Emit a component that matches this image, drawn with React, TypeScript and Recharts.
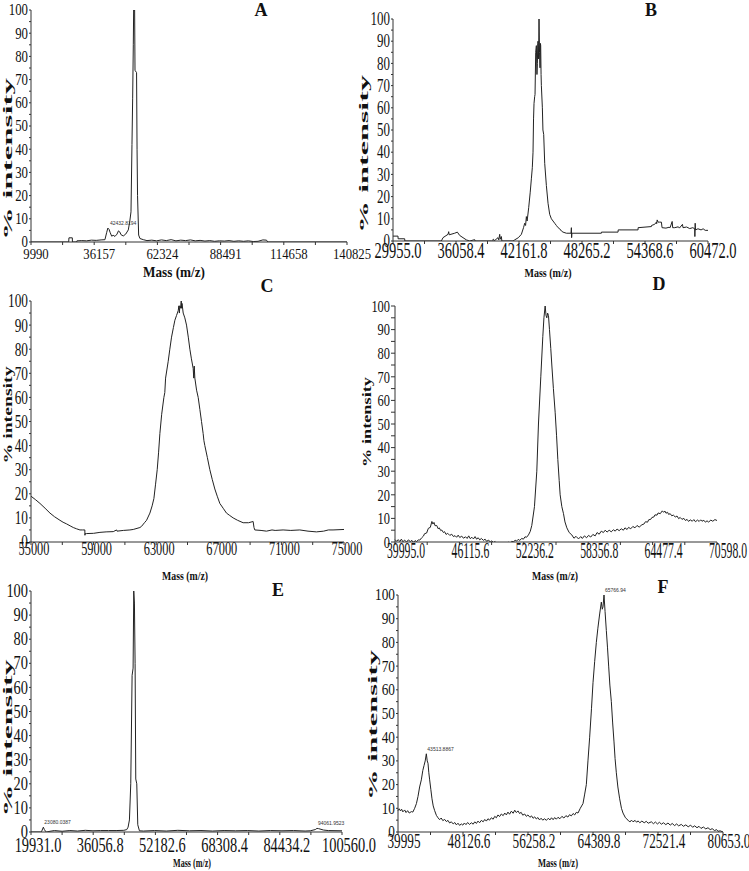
import { LineChart, Line, XAxis, YAxis, ReferenceDot } from 'recharts';

type Pt = [number, number];

// mass (m/z) tick labels per panel
const ticksA = ['9990', '36157', '62324', '88491', '114658', '140825'];
const ticksB = ['29955.0', '36058.4', '42161.8', '48265.2', '54368.6', '60472.0'];
const ticksC = ['55000', '59000', '63000', '67000', '71000', '75000'];
const ticksD = ['39995.0', '46115.6', '52236.2', '58356.8', '64477.4', '70598.0'];
const ticksE = ['19931.0', '36056.8', '52182.6', '68308.4', '84434.2', '100560.0'];
const ticksF = ['39995', '48126.6', '56258.2', '64389.8', '72521.4', '80653.0'];
const intensityTicks = [0, 5, 10, 15, 20, 25, 30, 35, 40, 45, 50, 55, 60, 65, 70, 75, 80, 85, 90, 95, 100];

// [mass, % intensity]
const specA: Pt[] = [
  [9990, 0], [25600, 0], [25700, 1.8], [27100, 1.8], [27150, 0], [28900, 0], [29000, 0.5], [31000, 0.6],
  [33000, 0.5], [35000, 0.8], [37000, 0.7], [39000, 0.9], [40600, 1], [41300, 4], [41800, 6], [42280, 5.5],
  [42800, 4], [43400, 2.5], [44000, 2.9], [44760, 2.4], [45600, 3.4], [46200, 4.8], [46700, 4.4], [47300, 3.1],
  [48200, 2.6], [49200, 3.4], [50280, 5.2], [50900, 9], [51390, 13], [51800, 42], [52080, 62], [52350, 85],
  [52490, 100], [52900, 100], [53050, 74], [53700, 73], [53900, 40], [54100, 20], [54560, 3], [55100, 1.5],
  [56500, 1], [58000, 0.6], [60000, 0.8], [62000, 0.5], [64000, 0.9], [66000, 0.6], [68000, 1], [70000, 0.5],
  [72000, 0.8], [74000, 0.6], [76000, 0.9], [78000, 0.5], [80000, 0.7], [82000, 0.4], [84000, 0.6], [86000, 0.3],
  [88000, 0.5], [90000, 0.4], [92000, 0.6], [94000, 0.3], [96000, 0.5], [98000, 0.3], [100000, 0.5], [102000, 0.2],
  [104000, 0.3], [106000, 0.9], [107500, 0.8], [108000, 0], [140825, 0],
];

const specB: Pt[] = [
  [29955, 2.2], [30440, 2.2], [30450, 1], [31086, 1], [31100, 0], [34640, 0], [34800, 1.5], [35285, 3],
  [35349, 4.2], [35400, 2.8], [35931, 3.5], [36189, 4], [36415, 2.5], [36738, 1.5], [37061, 0.5], [37384, 0],
  [37869, 0.6], [37900, 0], [39500, 0], [39700, 0.8], [39750, 0], [40130, 1.5], [40200, 0.5], [40291, 3],
  [40350, 0.8], [40453, 2], [40500, 0], [41583, 0], [41745, 0.5], [42100, 1.5], [42391, 3], [42600, 6],
  [42714, 8], [42800, 7], [42875, 11], [42950, 9], [43101, 15], [43250, 22], [43360, 28], [43450, 33],
  [43521, 40], [43570, 55], [43618, 62], [43680, 65], [43715, 66], [43780, 85], [43844, 88], [43900, 75],
  [43941, 80], [43980, 89], [44006, 90], [44060, 82], [44102, 100], [44150, 85], [44199, 78], [44240, 89],
  [44264, 88], [44300, 75], [44329, 70], [44425, 60], [44480, 50], [44555, 48], [44652, 35], [44813, 25],
  [44975, 17], [45136, 12], [45300, 10], [45459, 9], [45620, 8], [45782, 7], [45950, 6], [46105, 5.5],
  [46270, 4.5], [46428, 4], [46751, 3.5], [47200, 3.5], [47236, 6], [47260, 1.5], [47290, 3.5], [50143, 3.5],
  [50150, 4], [51758, 4], [51770, 5], [53696, 5], [53700, 6], [54988, 6.5], [55000, 7], [55300, 7.5],
  [55472, 8.5], [55500, 7.8], [55550, 9.5], [55634, 8.5], [55800, 8.5], [55957, 8.5], [56021, 6], [56400, 5.8],
  [56700, 6.2], [56800, 6], [57000, 8.8], [57050, 6], [57249, 6], [57600, 6.4], [57700, 5.8], [58000, 7.5],
  [58050, 6], [58400, 6.3], [58700, 5.6], [59000, 6], [59187, 5.5], [59200, 2], [59230, 8], [59260, 5],
  [59500, 5.5], [59800, 5], [60000, 5.5], [60200, 4.8], [60472, 4.8],
];

const specC: Pt[] = [
  [55000, 19], [55300, 17.5], [55575, 16], [55900, 14], [56213, 12], [56500, 10.5], [56851, 9], [57050, 8.2],
  [57277, 7.5], [57500, 6.7], [57703, 6], [57900, 5.5], [58128, 5], [58300, 5], [58440, 5], [58447, 2.8],
  [58460, 3.5], [58554, 3.5], [59000, 3.6], [59405, 4], [59800, 4.2], [60256, 4.3], [60469, 5], [60500, 4.5],
  [60900, 4.8], [61320, 5], [61533, 5.2], [61959, 6], [62065, 6.5], [62250, 8], [62384, 9], [62597, 12],
  [62740, 15], [62852, 18], [62960, 24], [63065, 30], [63150, 37], [63235, 45], [63350, 53], [63491, 60],
  [63550, 62], [63600, 68], [63767, 75], [63870, 80], [63980, 85], [64100, 89], [64193, 92], [64300, 94],
  [64406, 96], [64450, 98], [64480, 95], [64512, 98], [64560, 97], [64600, 100], [64619, 97], [64650, 99],
  [64725, 95], [64830, 93], [64938, 90], [65050, 85], [65151, 80], [65250, 76], [65363, 72], [65400, 68],
  [65430, 73], [65470, 68], [65580, 63], [65683, 60], [65790, 55], [65895, 50], [66000, 45], [66050, 42],
  [66108, 40], [66270, 35], [66427, 30], [66580, 26], [66746, 22], [66900, 19], [67066, 16], [67280, 14],
  [67491, 12], [67700, 11], [67917, 10], [68200, 9], [68555, 8], [68900, 8], [69194, 8.5], [69250, 6],
  [69300, 5], [69700, 4.8], [70045, 4.5], [70400, 5], [70600, 4.8], [71109, 5], [71600, 4.8], [72173, 5],
  [72700, 4.5], [73237, 4.2], [73700, 4.5], [74000, 5], [74301, 5], [75000, 5.2],
];

const specD: Pt[] = [
  [39995, 1], [40150, 0.3], [40300, 1], [40450, 0.2], [40600, 1.2], [40750, 0.1], [40900, 0.8], [41100, 0],
  [41263, 0.9], [41450, 0.2], [41600, 0.7], [41750, -0.2], [41900, 0.6], [42050, 0.1], [42200, 0.9], [42350, 0.8],
  [42532, 1.8], [42700, 2.5], [42800, 3.5], [43000, 3.8], [43166, 5.8], [43350, 6.2], [43500, 8.7], [43600, 7.6],
  [43700, 8.3], [43800, 6.9], [43959, 7], [44100, 5.6], [44200, 6], [44350, 4.8], [44434, 5.1], [44600, 4],
  [44700, 4.4], [44850, 3.2], [45000, 3.7], [45200, 2.8], [45386, 3.3], [45550, 2.3], [45700, 2.7], [45850, 2],
  [46000, 2.9], [46150, 1.9], [46337, 2.5], [46500, 1.6], [46700, 2.2], [46850, 1.5], [47000, 2.6], [47150, 1.4],
  [47300, 2], [47450, 1.3], [47605, 2.3], [47750, 1.2], [47900, 1.8], [48050, 0.9], [48200, 1.5], [48400, 0.7],
  [48557, 1.2], [48700, 0.3], [48900, 0.8], [49050, 0], [49200, 0.5], [49350, -0.3], [49508, 0.2], [49650, -0.6],
  [49800, -0.2], [50000, -1], [50142, -0.6], [50300, -1], [50450, -0.3], [50600, -0.8], [50776, 0], [50950, -0.4],
  [51100, 0.3], [51250, 0], [51411, 0.8], [51550, 0.4], [51700, 1.1], [51850, 0.7], [52045, 1.5], [52200, 1.2],
  [52350, 2.2], [52500, 2], [52679, 3], [52850, 4.5], [52996, 7], [53250, 15], [53472, 30], [53630, 50],
  [53852, 70], [54043, 87], [54150, 95], [54265, 100], [54350, 96], [54423, 95], [54500, 97], [54582, 96],
  [54677, 90], [54800, 82], [54899, 75], [55050, 65], [55216, 55], [55350, 45], [55470, 35], [55600, 26],
  [55691, 20], [55850, 15], [56009, 12], [56150, 8.5], [56326, 6], [56550, 4], [56801, 3], [57000, 1.6],
  [57200, 2.4], [57436, 1.3], [57650, 2.3], [57800, 1.5], [58000, 2.6], [58200, 1.8], [58387, 2.8], [58600, 2.1],
  [58800, 3.2], [59021, 2.6], [59200, 4], [59400, 3.3], [59600, 4.6], [59800, 4], [59972, 5], [60150, 4.2],
  [60350, 5], [60550, 4.3], [60750, 5.2], [60924, 4.6], [61100, 5.5], [61300, 4.8], [61500, 5.6], [61700, 5],
  [61850, 6], [62050, 5.3], [62192, 6.2], [62400, 5.6], [62600, 6.6], [62800, 6], [63000, 7], [63200, 6.3],
  [63460, 7.3], [63650, 7.6], [63800, 8.6], [64000, 8.4], [64100, 9.4], [64300, 9.6], [64412, 10.4], [64600, 10.6],
  [64700, 11.5], [64900, 11.4], [65000, 12.3], [65205, 12], [65400, 13.2], [65522, 12.6], [65650, 13.1], [65750, 12.2],
  [65900, 12.6], [65997, 11.7], [66150, 12], [66300, 11.1], [66450, 11.4], [66631, 10.6], [66800, 11], [66950, 9.9],
  [67100, 10.4], [67266, 9.6], [67450, 10], [67600, 9.1], [67750, 9.6], [67900, 8.7], [68050, 9.4], [68250, 8.8],
  [68400, 9.5], [68550, 8.6], [68750, 9.3], [68900, 8.7], [69050, 9.4], [69168, 8.8], [69350, 9.2], [69500, 8.4],
  [69650, 9], [69802, 8.4], [70000, 9.3], [70200, 8.8], [70400, 9.5], [70598, 9.1],
];

const specE: Pt[] = [
  [19931, 0], [22600, 0], [22700, 0.3], [23132, 2], [23400, 1], [23564, 0.5], [24000, 0], [24862, 0.3],
  [26000, 0.6], [28000, 0.3], [30000, 0.6], [32000, 0.4], [34000, 0.7], [36000, 0.5], [38000, 0.6], [40000, 0.6],
  [42000, 0.6], [44000, 0.7], [44757, 1], [45100, 2], [45449, 5], [45795, 20], [46141, 65], [46400, 68],
  [46573, 100], [46746, 95], [46919, 70], [47092, 22], [47352, 20], [47611, 3], [48044, 0.5], [49082, 0.4],
  [52000, 0.6], [55000, 0.4], [58000, 0.7], [61000, 0.5], [64000, 0.6], [67000, 0.4], [70000, 0.6], [73000, 0.5],
  [76000, 0.6], [79000, 0.4], [82000, 0.6], [85000, 0.5], [88000, 0.6], [91000, 0.4], [92332, 0.5], [93629, 1],
  [94061, 1.5], [94494, 1.4], [95792, 0.8], [97000, 0.6], [100560, 0.5],
];

const specF: Pt[] = [
  [39995, 9], [40150, 9.8], [40300, 8.9], [40450, 9.6], [40600, 8.5], [40829, 9.3], [41000, 8.2], [41200, 9],
  [41400, 8], [41663, 8.6], [41850, 8.4], [42080, 10], [42300, 12], [42497, 15], [42700, 19], [42914, 22],
  [43100, 26], [43248, 28], [43400, 30], [43540, 33], [43650, 30], [43748, 29], [43850, 25], [43957, 22],
  [44100, 18], [44248, 14], [44400, 11], [44582, 9], [44800, 7], [44999, 6], [45200, 5.2], [45400, 5.9],
  [45600, 4.8], [45833, 5.3], [46050, 4.4], [46250, 4.9], [46450, 3.8], [46667, 4.3], [46900, 3.4], [47100, 4],
  [47300, 3], [47500, 3.7], [47700, 2.8], [47918, 3.4], [48100, 2.9], [48300, 3.8], [48500, 3.1], [48700, 4],
  [48950, 3.2], [49169, 3.9], [49400, 3.3], [49600, 4.3], [49800, 3.6], [50000, 4.6], [50200, 3.9], [50420, 4.9],
  [50650, 4.3], [50850, 5.3], [51050, 4.6], [51250, 5.6], [51450, 5], [51671, 6], [51900, 5.4], [52100, 6.6],
  [52300, 6], [52500, 7.2], [52700, 6.5], [52922, 7.6], [53150, 6.9], [53350, 8], [53550, 7.2], [53750, 8.4],
  [53950, 7.5], [54173, 8.8], [54400, 7.9], [54600, 9.2], [54800, 8.2], [55007, 8.9], [55200, 7.8], [55400, 8.3],
  [55600, 7.1], [55841, 7.6], [56050, 6.6], [56250, 7.2], [56500, 6.2], [56700, 6.8], [56900, 5.8], [57092, 6.4],
  [57300, 5.5], [57500, 6.1], [57700, 5.1], [57900, 5.8], [58100, 5], [58343, 5.6], [58550, 4.9], [58800, 5.8],
  [59000, 5.1], [59200, 6], [59400, 5.2], [59600, 6.1], [59800, 5.4], [60011, 6.2], [60250, 5.6], [60500, 6.6],
  [60750, 5.9], [61000, 6.9], [61250, 6.3], [61450, 7.3], [61679, 6.8], [61900, 7.8], [62100, 7.2], [62300, 8.3],
  [62513, 8], [62800, 10], [63139, 12], [63350, 16], [63556, 20], [63760, 30], [63973, 40], [64200, 52],
  [64390, 63], [64600, 72], [64807, 80], [65000, 86], [65224, 92], [65432, 97], [65550, 94], [65641, 95],
  [65766, 100], [65900, 93], [66058, 85], [66200, 78], [66350, 70], [66500, 62], [66683, 55], [66850, 46],
  [67017, 38], [67150, 31], [67309, 25], [67500, 19], [67726, 14], [67950, 10], [68143, 8], [68450, 6],
  [68768, 5], [69000, 4.2], [69200, 5], [69400, 4.3], [69650, 4.9], [69850, 4.1], [70019, 4.7], [70250, 3.9],
  [70500, 4.6], [70800, 3.9], [71050, 4.5], [71300, 3.7], [71687, 4.3], [71950, 3.5], [72200, 4.2], [72450, 3.4],
  [72700, 4.1], [72950, 3.3], [73200, 3.9], [73500, 3.1], [73772, 3.8], [74050, 2.9], [74300, 3.6], [74600, 2.7],
  [74850, 3.4], [75100, 2.6], [75440, 3.2], [75700, 2.4], [76000, 3], [76300, 2.2], [76600, 2.9], [76850, 2],
  [77108, 2.6], [77400, 1.8], [77650, 2.4], [77900, 1.5], [78200, 2.1], [78500, 1.3], [78776, 1.8], [79050, 1],
  [79300, 1.4], [79600, 0.6], [79850, 1], [80027, 0.3], [80300, 0.5], [80653, 0],
];

// peak annotations [mass, intensity, text]
const notesA: [number, number, string][] = [[42282, 6, '42432.8194']];
const notesE: [number, number, string][] = [[23132, 2, '23080.0387'], [94061, 1.5, '94061.9523']];
const notesF: [number, number, string][] = [[43540, 33, '43513.8867'], [65766, 100, '65766.94']];

const SERIF = '"Liberation Serif", "Times New Roman", serif';

interface Cfg {
  spec: Pt[]; ticks: string[]; notes: [number, number, string][];
  l: number; r: number; t: number; b: number;
  xFs: number; xSx: number; xBase: number; xDx: number;
  yFs: number; ySx: number; yGap: number; tick: number;
}

const panels: Cfg[] = [
  { spec: specA, ticks: ticksA, notes: notesA, l: 31, r: 347, t: 10, b: 242, xFs: 15, xSx: 0.85, xBase: 17, xDx: 5, yFs: 16, ySx: 0.8, yGap: 3, tick: 2 },
  { spec: specB, ticks: ticksB, notes: [], l: 393, r: 708, t: 19, b: 241, xFs: 23, xSx: 0.63, xBase: 17, xDx: 5, yFs: 18, ySx: 0.72, yGap: 3, tick: 2 },
  { spec: specC, ticks: ticksC, notes: [], l: 31, r: 344, t: 301, b: 542, xFs: 19, xSx: 0.65, xBase: 13, xDx: 3, yFs: 19, ySx: 0.7, yGap: 3, tick: 2 },
  { spec: specD, ticks: ticksD, notes: [], l: 395, r: 717, t: 306, b: 542, xFs: 23, xSx: 0.51, xBase: 16, xDx: 11, yFs: 17, ySx: 0.73, yGap: 5, tick: 4 },
  { spec: specE, ticks: ticksE, notes: notesE, l: 31, r: 342, t: 591, b: 832, xFs: 20, xSx: 0.72, xBase: 20, xDx: 7, yFs: 18, ySx: 0.8, yGap: 3, tick: 2 },
  { spec: specF, ticks: ticksF, notes: notesF, l: 398, r: 723, t: 595, b: 832, xFs: 22, xSx: 0.6, xBase: 16, xDx: 6, yFs: 16, ySx: 0.83, yGap: 3, tick: 2 },
];

const yTitles = [
  { x: 12, cy: 159, len: 162 }, { x: 368, cy: 154, len: 158 },
  { x: 12, cy: 415, len: 97 }, { x: 371, cy: 422, len: 90 },
  { x: 12, cy: 738, len: 157 }, { x: 377, cy: 725, len: 150 },
];
const xTitles = [
  { cx: 174, y: 277, len: 62, fs: 15 }, { cx: 548, y: 277, len: 47, fs: 13 },
  { cx: 185, y: 580, len: 46, fs: 13 }, { cx: 555, y: 580, len: 46, fs: 13 },
  { cx: 192, y: 867, len: 38, fs: 12 }, { cx: 558, y: 867, len: 40, fs: 13 },
];
const letters = [
  { t: 'A', x: 261, y: 16 }, { t: 'B', x: 651, y: 16 }, { t: 'C', x: 267, y: 292 },
  { t: 'D', x: 659, y: 290 }, { t: 'E', x: 278, y: 596 }, { t: 'F', x: 663, y: 593 },
];

const PAD_L = 36, PAD_T = 14, PAD_R = 44, PAD_B = 32;

function Panel({ c }: { c: Cfg }) {
  const w = c.r - c.l + PAD_L + PAD_R;
  const h = c.b - c.t + PAD_T + PAD_B;
  const axisY = c.b - c.t + PAD_T;
  const data = c.spec.map(([m, v]) => ({ m, v }));
  const majors = c.ticks.map(Number);
  const labelOf = new Map(majors.map((v, i) => [v, c.ticks[i]]));
  const mids = majors.slice(1).map((v, i) => (v + majors[i]) / 2);
  const xTicks = [...majors, ...mids].sort((a, b) => a - b);

  return (
    <div style={{ position: 'absolute', left: c.l - PAD_L, top: c.t - PAD_T, width: w, height: h }}>
      <LineChart width={w} height={h} data={data} margin={{ top: PAD_T, right: PAD_R, bottom: 0, left: 0 }}>
        <XAxis
          type="number"
          dataKey="m"
          domain={[majors[0], majors[majors.length - 1]]}
          ticks={xTicks}
          interval={0}
          height={PAD_B}
          tickSize={3}
          stroke="#333"
          tick={(p: any) => {
            const label = labelOf.get(p.payload.value);
            if (!label) return <g />;
            return (
              <text
                transform={`translate(${p.x + c.xDx},${axisY + c.xBase}) scale(${c.xSx},1)`}
                textAnchor="middle" fontSize={c.xFs} fontFamily={SERIF} fill="#111"
              >{label}</text>
            );
          }}
        />
        <YAxis
          yAxisId="l"
          width={PAD_L}
          domain={[0, 100]}
          ticks={intensityTicks}
          interval={0}
          allowDataOverflow
          tickSize={c.tick}
          stroke="#333"
          tick={(p: any) => {
            const v = p.payload.value;
            if (v % 10 !== 0) return <g />;
            return (
              <text
                transform={`translate(${PAD_L - c.yGap},${p.y + c.yFs * 0.34}) scale(${c.ySx},1)`}
                textAnchor="end" fontSize={c.yFs} fontFamily={SERIF} fill="#111"
              >{v}</text>
            );
          }}
        />
        <YAxis yAxisId="r" orientation="right" width={0} domain={[0, 100]} tick={false} tickLine={false} axisLine={{ stroke: '#777' }} />
        <Line yAxisId="l" type="linear" dataKey="v" stroke="#222" strokeWidth={1} dot={false} isAnimationActive={false} />
        {c.notes.map(([m, v, t]) => (
          <ReferenceDot
            key={t}
            yAxisId="l"
            x={m}
            y={v}
            r={0}
            shape={(p: any) => (
              <text x={p.cx + 1} y={p.cy - 3} fontSize={5} fontFamily="Liberation Sans, sans-serif" fill="#333">{t}</text>
            )}
          />
        ))}
      </LineChart>
    </div>
  );
}

export default function App() {
  return (
    <div style={{ position: 'absolute', left: 0, top: 0, width: 749, height: 871, background: '#fff', overflow: 'hidden' }}>
      {panels.map((c, i) => <Panel key={i} c={c} />)}
      <svg width={749} height={871} style={{ position: 'absolute', left: 0, top: 0, pointerEvents: 'none' }}>
        {yTitles.map((t, i) => (
          <text key={`y${i}`} transform={`translate(${t.x},${t.cy}) rotate(-90)`} textAnchor="middle"
            textLength={t.len} lengthAdjust="spacingAndGlyphs" fontSize={13} fontWeight="bold" fontFamily={SERIF} fill="#111">
            % intensity
          </text>
        ))}
        {xTitles.map((t, i) => (
          <text key={`x${i}`} x={t.cx} y={t.y} textAnchor="middle" textLength={t.len} lengthAdjust="spacingAndGlyphs"
            fontSize={t.fs} fontWeight="bold" fontFamily={SERIF} fill="#111">
            Mass (m/z)
          </text>
        ))}
        {letters.map((l) => (
          <text key={l.t} x={l.x} y={l.y} textAnchor="middle" fontSize={18} fontWeight="bold" fontFamily={SERIF} fill="#111">
            {l.t}
          </text>
        ))}
      </svg>
    </div>
  );
}
